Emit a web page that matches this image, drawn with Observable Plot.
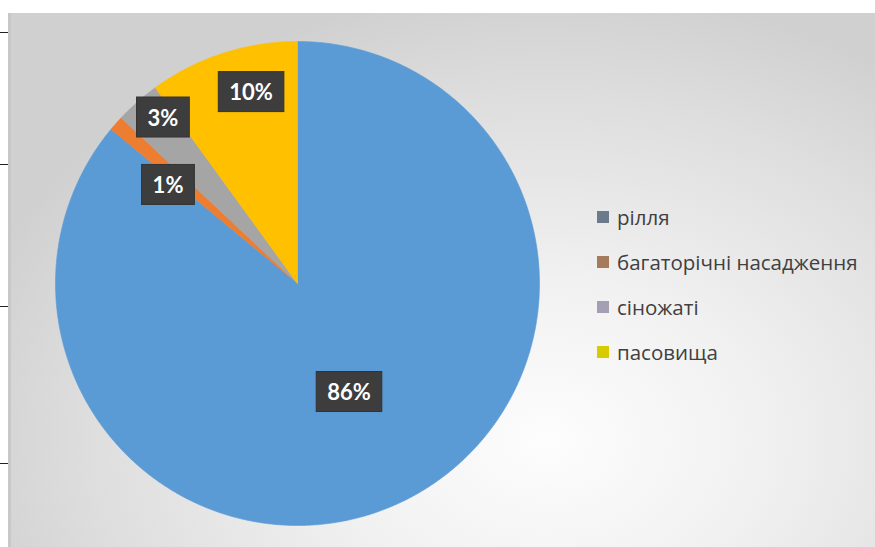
<!DOCTYPE html>
<html>
<head>
<meta charset="utf-8">
<script src="https://cdn.jsdelivr.net/npm/d3@7"></script>
<script src="https://cdn.jsdelivr.net/npm/@observablehq/plot@0.6"></script>
<style>
  html, body { margin: 0; padding: 0; background: #ffffff; }
  #wrap { position: relative; width: 875px; height: 547px; overflow: hidden; background: #ffffff; }
  #panel {
    position: absolute; left: 8px; top: 13px; right: 0; bottom: 0;
    background: radial-gradient(ellipse 70% 85% at 62% 80%, #fdfdfd 0%, #f1f1f1 35%, #dedede 75%, #d0d0d0 100%);
    border-left: 3px solid #c8c8c8;
  }
  #chart { position: absolute; left: 0; top: 0; }
  #chart svg { background: transparent !important; }
  .tick { position: absolute; left: 0; width: 8px; height: 0; border-top: 1.5px solid #222; }
  #legend { position: absolute; left: 597px; top: 194px; font-family: "Open Sans", "Noto Sans", sans-serif; font-size: 20.5px; color: #404040; }
  .item { height: 45px; display: flex; align-items: center; }
  .sw { width: 12px; height: 12px; margin-right: 8px; flex: none; }
</style>
</head>
<body>
<div id="wrap">
  <div id="panel"></div>
  <div class="tick" style="top:32px"></div>
  <div class="tick" style="top:164px"></div>
  <div class="tick" style="top:306px"></div>
  <div class="tick" style="top:463px"></div>
  <div id="chart"></div>
  <div id="legend"></div>
</div>
<script>
// ---- data ----
const categories = ["рілля", "багаторічні насадження", "сіножаті", "пасовища"];
const values = [86, 1, 3, 10];
const labels = ["86%", "1%", "3%", "10%"];
const pieColors = ["#5b9bd5", "#ed7d31", "#a5a5a5", "#ffc000"];
const legendColors = ["#6b7b8c", "#a57b5b", "#a49fb3", "#d6cc00"];

// ---- layout (label placement relative to each slice) ----
const labelRadius = [0.5, 0.67, 0.88, 0.81];
const labelAngleShift = [0, -4.4, 2.2, 4.3]; // degrees

const arcs = d3.pie().sort(null).value(d => d)(values);
const points = [];
arcs.forEach((a, i) => {
  const cat = categories[i];
  points.push({cat, x: 0, y: 0});
  const n = Math.max(4, Math.ceil((a.endAngle - a.startAngle) / (Math.PI / 360)));
  for (let k = 0; k <= n; k++) {
    const t = a.startAngle + (a.endAngle - a.startAngle) * k / n;
    points.push({cat, x: Math.sin(t), y: Math.cos(t)});
  }
  points.push({cat, x: 0, y: 0});
});

const labelData = arcs.map((a, i) => {
  const mid = (a.startAngle + a.endAngle) / 2 + labelAngleShift[i] * Math.PI / 180;
  return {text: labels[i], x: labelRadius[i] * Math.sin(mid), y: labelRadius[i] * Math.cos(mid)};
});

const chart = Plot.plot({
  width: 875,
  height: 547,
  marginLeft: 55,
  marginRight: 336,
  marginTop: 41,
  marginBottom: 22,
  x: {domain: [-1, 1], axis: null},
  y: {domain: [-1, 1], axis: null},
  color: {domain: categories, range: pieColors},
  style: {background: "transparent"},
  marks: [
    Plot.line(points, {x: "x", y: "y", z: "cat", fill: "cat", stroke: "cat", strokeWidth: 0.6, curve: "linear"}),
    Plot.text(labelData, {x: "x", y: "y", text: "text", fill: "white", fontSize: 22, fontWeight: "bold", fontFamily: "Lato, 'Open Sans', sans-serif", className: "plabel"})
  ]
});
document.getElementById("chart").appendChild(chart);

// dark boxes behind the data labels
const ns = "http://www.w3.org/2000/svg";
chart.querySelectorAll(".plabel text").forEach(t => {
  const b = t.getBBox();
  const w = b.width + 22, h = 40;
  const cx = b.x + b.width / 2, cy = b.y + b.height / 2;
  const r = document.createElementNS(ns, "rect");
  r.setAttribute("x", cx - w / 2);
  r.setAttribute("y", cy - h / 2);
  r.setAttribute("width", w);
  r.setAttribute("height", h);
  r.setAttribute("fill", "#3d3d3d");
  r.setAttribute("stroke", "#333");
  const tr = t.getAttribute("transform");
  if (tr) r.setAttribute("transform", tr);
  t.parentNode.insertBefore(r, t);
});

// legend
const legend = document.getElementById("legend");
categories.forEach((c, i) => {
  const it = document.createElement("div");
  it.className = "item";
  const sw = document.createElement("span");
  sw.className = "sw";
  sw.style.background = legendColors[i];
  const tx = document.createElement("span");
  tx.textContent = c;
  it.appendChild(sw);
  it.appendChild(tx);
  legend.appendChild(it);
});
</script>
</body>
</html>
